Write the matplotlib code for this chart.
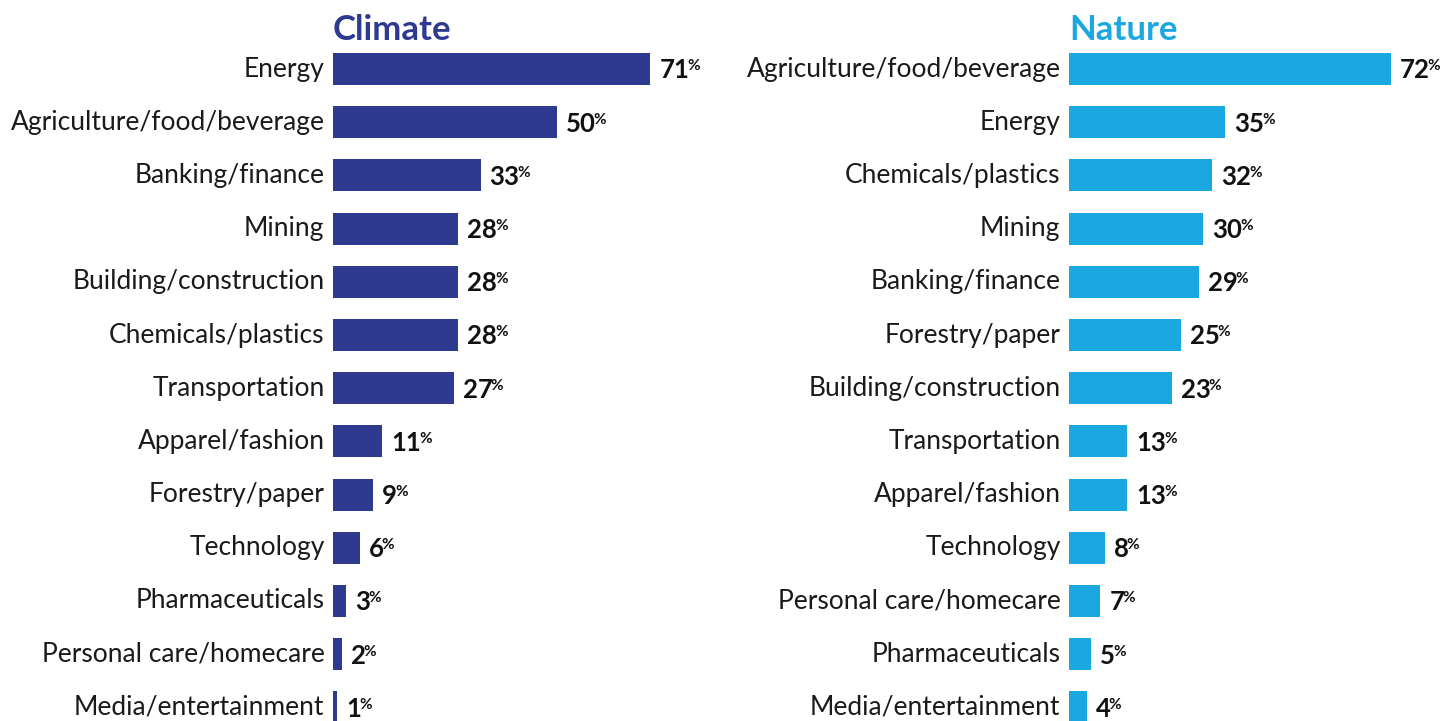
import matplotlib
matplotlib.use("Agg")
import matplotlib.pyplot as plt

plt.rcParams['font.family'] = ['Lato', 'DejaVu Sans']

climate_labels = ["Energy", "Agriculture/food/beverage", "Banking/finance", "Mining",
                  "Building/construction", "Chemicals/plastics", "Transportation",
                  "Apparel/fashion", "Forestry/paper", "Technology", "Pharmaceuticals",
                  "Personal care/homecare", "Media/entertainment"]
climate_values = [71, 50, 33, 28, 28, 28, 27, 11, 9, 6, 3, 2, 1]

nature_labels = ["Agriculture/food/beverage", "Energy", "Chemicals/plastics", "Mining",
                 "Banking/finance", "Forestry/paper", "Building/construction",
                 "Transportation", "Apparel/fashion", "Technology",
                 "Personal care/homecare", "Pharmaceuticals", "Media/entertainment"]
nature_values = [72, 35, 32, 30, 29, 25, 23, 13, 13, 8, 7, 5, 4]

CLIMATE_COLOR = "#2E3A8F"
NATURE_COLOR = "#1BA8E0"

W, H = 1440, 721
DPI = 100
PT = 72 / DPI  # points per pixel
fig = plt.figure(figsize=(W / DPI, H / DPI), dpi=DPI)

row = 53.2
n = len(climate_values)
top_px = 69 - row / 2
height_px = n * row
bottom_frac = (H - (top_px + height_px)) / H
height_frac = height_px / H
xmax = 80
ax_w_px = xmax * 4.47

NUM_BASE = -9.3 * PT   # baseline of the value numbers below the bar centre
PCT_RISE = 8 * PT      # superscript % raised above that baseline


def panel(x0_px, labels, values, color, title):
    ax = fig.add_axes([x0_px / W, bottom_frac, ax_w_px / W, height_frac])
    ypos = list(range(len(values)))
    ax.barh(ypos, values, height=0.6, color=color)
    ax.set_xlim(0, xmax)
    ax.set_ylim(len(values) - 0.5, -0.5)
    ax.axis("off")
    nums = []
    for y, lab, v in zip(ypos, labels, values):
        ax.annotate(lab, xy=(0, y), xytext=(-8.5 * PT, 0), textcoords="offset points",
                    ha="right", va="center", fontsize=19, color="#1a1a1a",
                    annotation_clip=False)
        t = ax.annotate(str(v), xy=(v, y), xytext=(9 * PT, NUM_BASE),
                        textcoords="offset points", ha="left", va="baseline",
                        fontsize=18.5, fontweight="bold", color="#111111",
                        annotation_clip=False)
        nums.append((t, v, y))
    fig.text(x0_px / W, 1 - 30 / H, title, ha="left", va="center",
             fontsize=25, fontweight="bold", color=color)
    return ax, nums


panels = [panel(333, climate_labels, climate_values, CLIMATE_COLOR, "Climate"),
          panel(1069, nature_labels, nature_values, NATURE_COLOR, "Nature")]

fig.canvas.draw()
renderer = fig.canvas.get_renderer()
for ax, nums in panels:
    for t, v, y in nums:
        bb = t.get_window_extent(renderer)
        x_bar = ax.transData.transform((v, y))[0]
        dx = (bb.x1 - x_bar - 2) * PT
        ax.annotate("%", xy=(v, y), xytext=(dx, NUM_BASE + PCT_RISE),
                    textcoords="offset points", ha="left", va="baseline",
                    fontsize=11, fontweight="bold", color="#111111",
                    annotation_clip=False)

fig.savefig("out.png", dpi=DPI, facecolor="white")
